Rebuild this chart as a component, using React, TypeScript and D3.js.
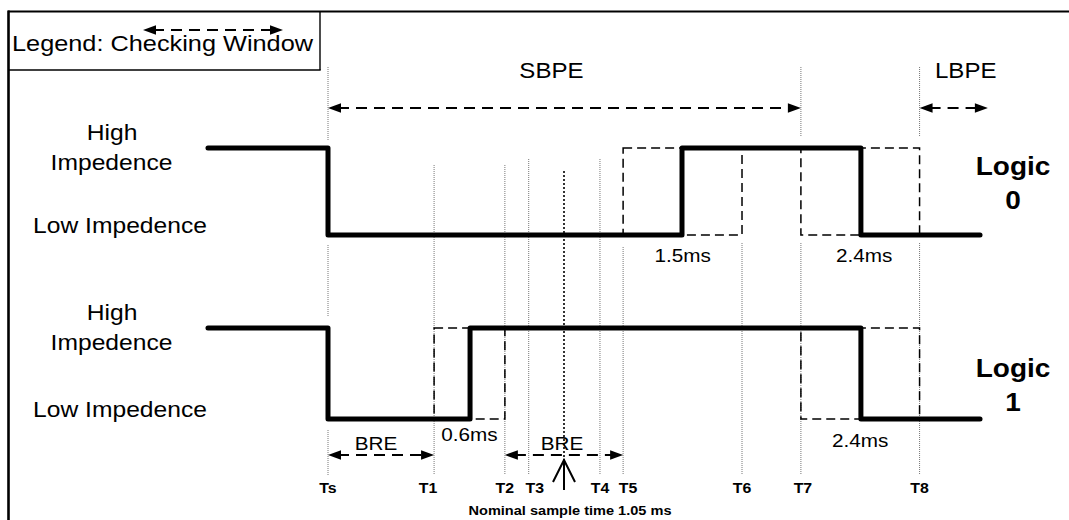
import React from "react";
import * as d3 from "d3";

// ---- data (times in ms from Ts) ----
const markerNames = ["Ts", "T1", "T2", "T3", "T4", "T5", "T6", "T7", "T8"];
const markerTimes = [0, 0.472, 0.787, 0.893, 1.21, 1.313, 1.842, 2.104, 2.632];
const nominalSample = 1.05;
const rows = ["Logic 0", "Logic 1"];
const rowDigits = ["0", "1"];
const logic0Wave: [number, number][] = [[-0.534, 1], [0, 0], [1.575, 1], [2.371, 0], [2.901, 0]];
const logic1Wave: [number, number][] = [[-0.534, 1], [0, 0], [0.632, 1], [2.371, 0], [2.901, 0]];
const logic0Windows = [
  { from: "T5", to: "T6", label: "1.5ms" },
  { from: "T7", to: "T8", label: "2.4ms" },
];
const logic1Windows = [
  { from: "T1", to: "T2", label: "0.6ms" },
  { from: "T7", to: "T8", label: "2.4ms" },
];
const periodArrows = [
  { label: "SBPE", from: 0, to: 2.104 },
  { label: "LBPE", from: 2.632, to: 2.936 },
];
const breArrows = [
  { label: "BRE", from: "Ts", to: "T1" },
  { label: "BRE", from: "T2", to: "T5" },
];
const levelNames = ["High", "Impedence", "Low Impedence"];
const legendText = "Legend: Checking Window";
const nominalText = "Nominal sample time 1.05 ms";

const FONT = "'Liberation Sans', Arial, Helvetica, sans-serif";
const SX = 1.12;

function Txt({ x, y, size, bold = false, anchor = "middle", children }: any) {
  return (
    <text
      transform={`translate(${x},${y}) scale(${SX},1)`}
      fontFamily={FONT}
      fontSize={size}
      fontWeight={bold ? "bold" : "normal"}
      textAnchor={anchor}
      fill="#000"
    >
      {children}
    </text>
  );
}

function head(x: number, y: number, dir: number) {
  const L = 13, W = 4.8;
  return `${x},${y} ${x - dir * L},${y - W} ${x - dir * L},${y + W}`;
}

function DArrow({ x1, x2, y, both = true }: any) {
  return (
    <g>
      <line x1={x1 + (both ? 10 : 0)} x2={x2 - 10} y1={y} y2={y} stroke="#000" strokeWidth={2} strokeDasharray="11,7" />
      {both && <polygon points={head(x1, y, -1)} fill="#000" />}
      <polygon points={head(x2, y, 1)} fill="#000" />
    </g>
  );
}

export default function App() {
  const x = d3.scaleLinear().domain([0, nominalSample]).range([328, 564]);
  const rowY = d3.scaleLinear().domain([0, 1]).range([148, 328]); // high level per row
  const lowOffset = [87, 91];
  const mt = (n: string) => markerTimes[markerNames.indexOf(n)];

  const waves = [logic0Wave, logic1Wave];
  const windows = [logic0Windows, logic1Windows];

  const lineFor = (r: number) =>
    d3
      .line<[number, number]>()
      .x((d) => x(d[0]))
      .y((d) => rowY(r) + (1 - d[1]) * lowOffset[r])
      .curve(d3.curveStepAfter);

  const segs: Record<string, [number, number][]> = {
    Ts: [[67, 140], [245, 316], [430, 475]],
    T1: [[165, 475]],
    T2: [[165, 475]],
    T3: [[159, 475]],
    T4: [[159, 475]],
    T5: [[247, 475]],
    T6: [[243, 475]],
    T7: [[67, 137], [243, 475]],
    T8: [[67, 137], [243, 475]],
  };
  const labelDx: Record<string, number> = { T1: -6, T3: 6, T5: 5, T7: 2 };

  const rowLabelDy = [-16.5, 3.5];
  const xn = x(nominalSample);

  return (
    <svg width={1069} height={520} style={{ position: "absolute", left: 0, top: 0, background: "#fff" }}>
      <rect x={0} y={0} width={1069} height={520} fill="#fff" />
      {/* frame */}
      <line x1={8} x2={1069} y1={11.5} y2={11.5} stroke="#000" strokeWidth={2} />
      <line x1={8.5} x2={8.5} y1={10.5} y2={520} stroke="#000" strokeWidth={2.6} />
      {/* legend box */}
      <line x1={320} x2={320} y1={11} y2={70} stroke="#000" strokeWidth={1.4} />
      <line x1={8} x2={320.7} y1={70} y2={70} stroke="#000" strokeWidth={1.4} />
      <Txt x={12} y={50.7} size={22.6} anchor="start">{legendText}</Txt>
      <DArrow x1={143} x2={283} y={30} />

      {/* vertical markers */}
      {markerNames.map((n) =>
        segs[n].map((s, i) => (
          <line key={n + i} x1={x(mt(n))} x2={x(mt(n))} y1={s[0]} y2={s[1]} stroke="#777" strokeWidth={1} strokeDasharray="1,1" />
        ))
      )}
      {markerNames.map((n) => (
        <Txt key={"l" + n} x={x(mt(n)) + (labelDx[n] || 0)} y={493} size={14.2} bold>{n}</Txt>
      ))}

      {/* nominal sample */}
      <line x1={xn} x2={xn} y1={171} y2={460} stroke="#000" strokeWidth={1.6} strokeDasharray="2,2" />
      <line x1={xn} x2={xn} y1={460} y2={490} stroke="#000" strokeWidth={2} />
      <polyline points={`${xn - 11},${482} ${xn},${460} ${xn + 11},${482}`} fill="none" stroke="#000" strokeWidth={2} />
      <Txt x={xn + 6} y={514.5} size={13} bold>{nominalText}</Txt>

      {/* period arrows */}
      {periodArrows.map((a, i) => (
        <g key={a.label}>
          <DArrow x1={x(a.from)} x2={x(a.to)} y={108} />
          <Txt x={(x(a.from) + x(a.to)) / 2 + (i === 0 ? -13 : 12)} y={78} size={21.5}>{a.label}</Txt>
        </g>
      ))}

      {/* BRE arrows */}
      {breArrows.map((a, i) => (
        <g key={"bre" + i}>
          <DArrow x1={x(mt(a.from))} x2={x(mt(a.to))} y={455} />
          <Txt x={(x(mt(a.from)) + x(mt(a.to))) / 2 + (i === 0 ? -5 : -2)} y={450} size={18.5}>{a.label}</Txt>
        </g>
      ))}

      {/* checking windows */}
      {windows.map((ws, r) =>
        ws.map((w, i) => {
          const hi = rowY(r), lo = hi + lowOffset[r];
          const x1 = x(mt(w.from)), x2 = x(mt(w.to));
          const dy = r === 0 ? 27 : i === 0 ? 21.5 : 28;
          return (
            <g key={"w" + r + i}>
              <rect x={x1} y={hi} width={x2 - x1} height={lo - hi} fill="none" stroke="#000" strokeWidth={1.5} strokeDasharray="9,5" />
              <Txt x={(x1 + x2) / 2 + (r === 0 && i === 1 ? 4 : 0)} y={lo + dy} size={18.5}>{w.label}</Txt>
            </g>
          );
        })
      )}

      {/* waveforms */}
      {waves.map((w, r) => (
        <path key={"wave" + r} d={lineFor(r)(w) || ""} fill="none" stroke="#000" strokeWidth={5} strokeLinecap="round" strokeLinejoin="round" />
      ))}

      {/* side labels */}
      {rows.map((r, i) => {
        const hi = rowY(i), lo = hi + lowOffset[i];
        return (
          <g key={r}>
            <Txt x={112} y={hi - 8} size={22}>{levelNames[0]}</Txt>
            <Txt x={111.5} y={hi + 21.5} size={22}>{levelNames[1]}</Txt>
            <Txt x={120} y={lo - 2} size={22}>{levelNames[2]}</Txt>
            <Txt x={1013} y={(hi + lo) / 2 + rowLabelDy[i]} size={25} bold>Logic</Txt>
            <Txt x={1013} y={(hi + lo) / 2 + rowLabelDy[i] + 34} size={25} bold>{rowDigits[i]}</Txt>
          </g>
        );
      })}
    </svg>
  );
}
